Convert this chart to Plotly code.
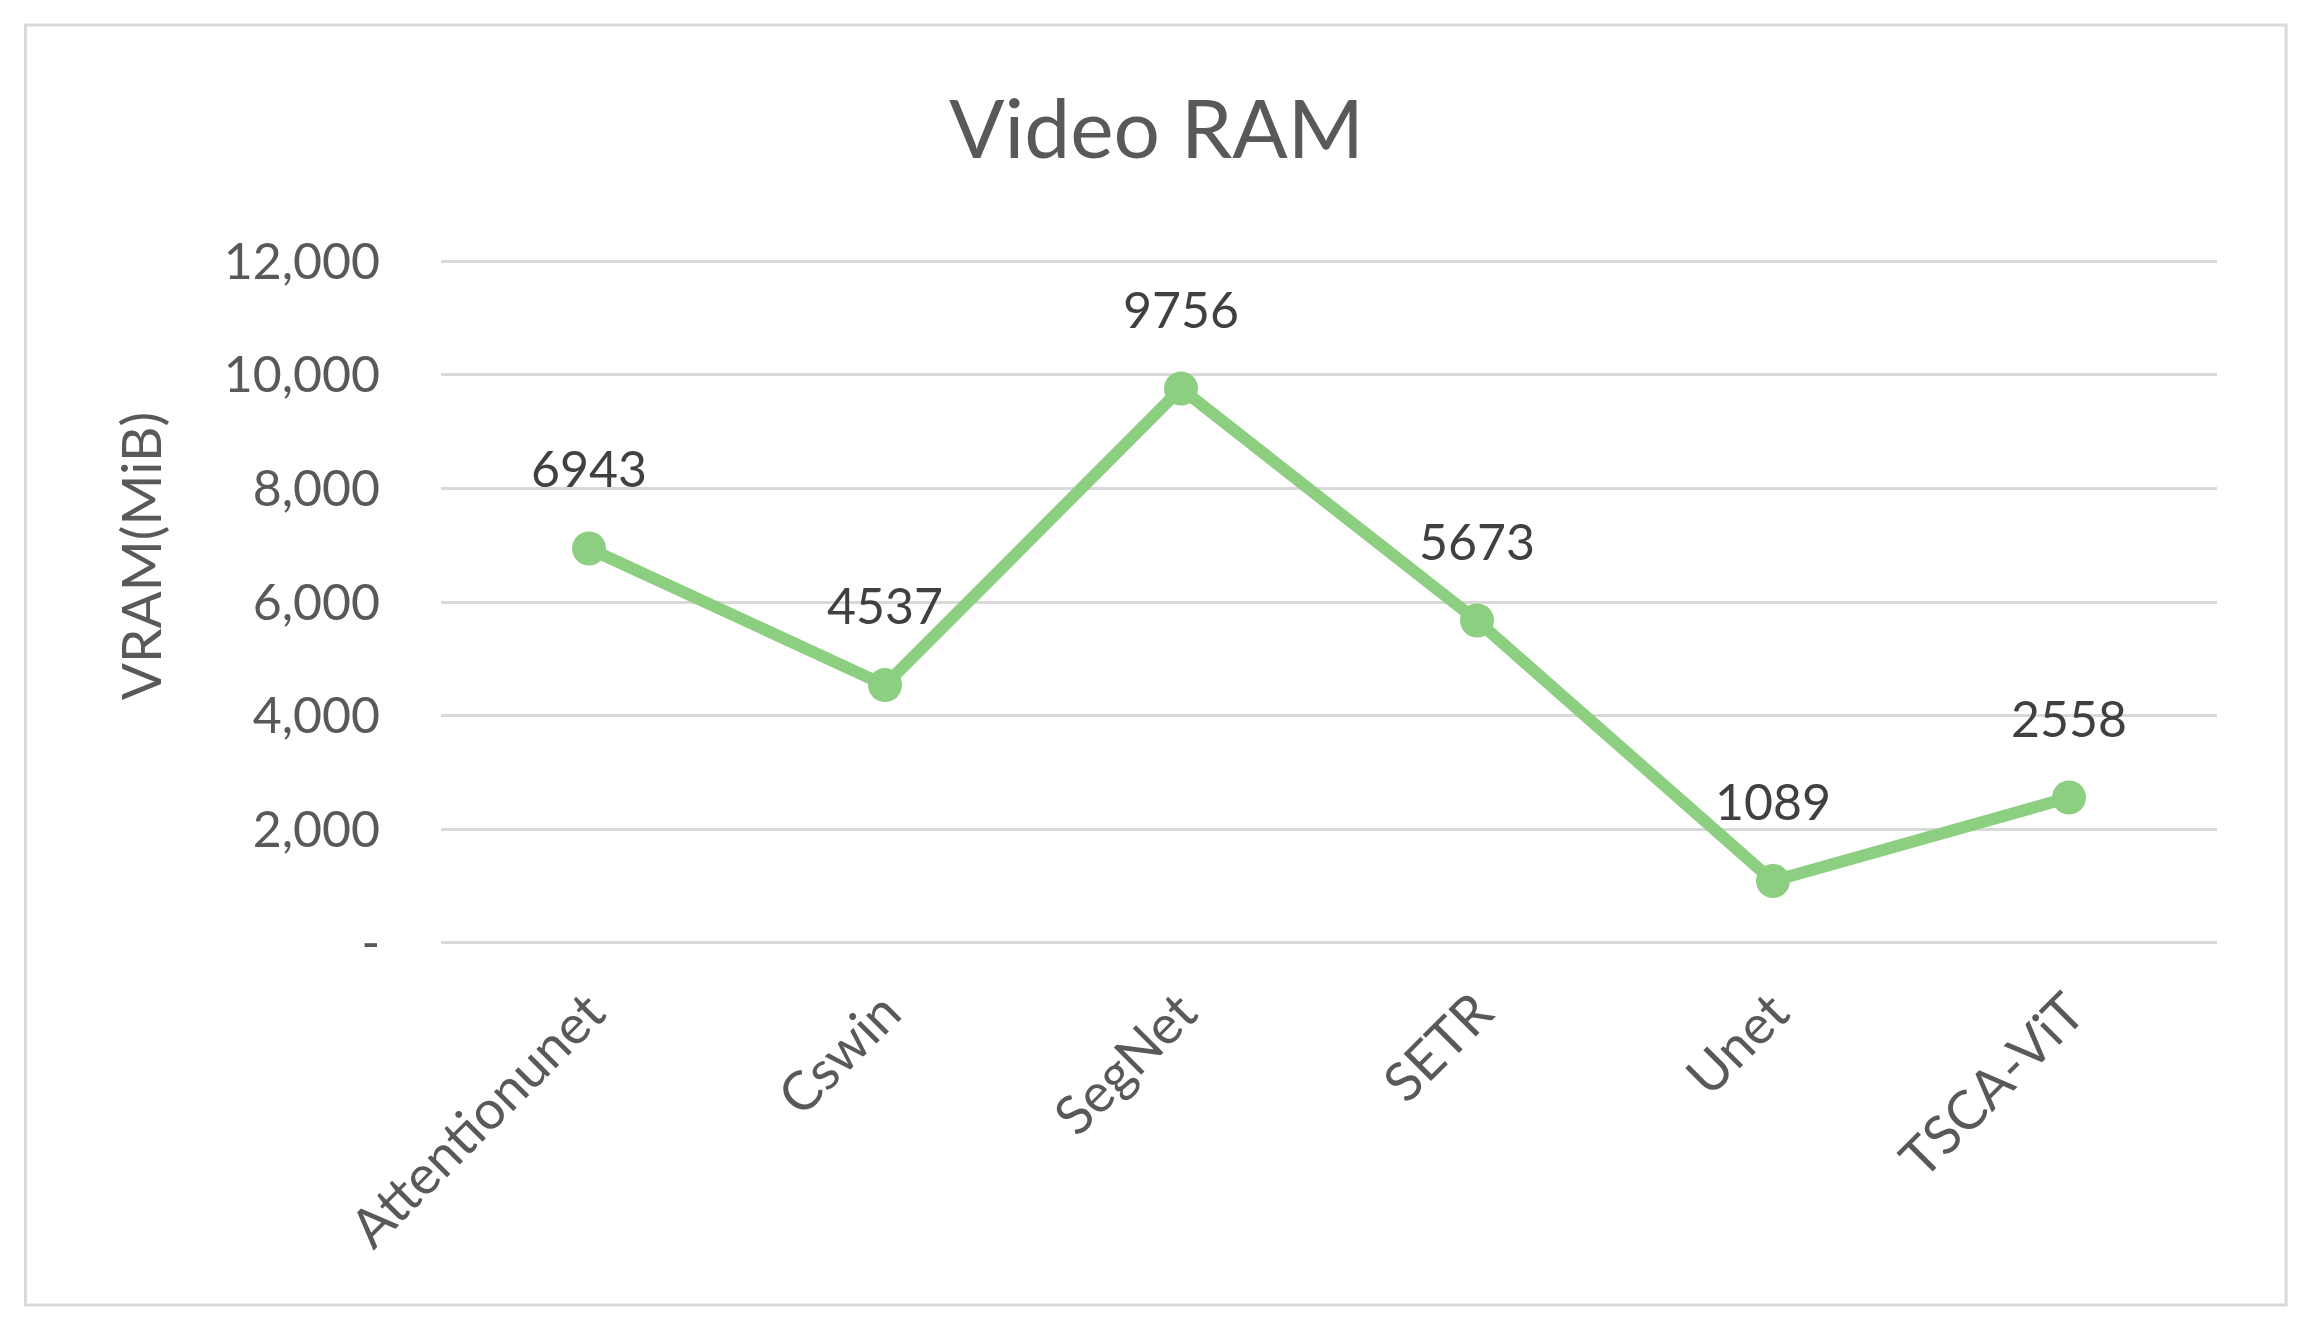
import plotly.graph_objects as go

categories = ["Attentionunet", "Cswin", "SegNet", "SETR", "Unet", "TSCA-ViT"]
vram_mib = [6943, 4537, 9756, 5673, 1089, 2558]
y_tick_values = [0, 2000, 4000, 6000, 8000, 10000, 12000]
y_tick_labels = ["-", "2,000", "4,000", "6,000", "8,000", "10,000", "12,000"]

FONT = "Lato"
LINE_GREEN = "#8DCF80"
TXT = "#595959"

fig = go.Figure()
fig.add_trace(go.Scatter(
    x=categories, y=vram_mib, mode="lines+markers",
    line=dict(color=LINE_GREEN, width=12),
    marker=dict(color=LINE_GREEN, size=34),
    hoverinfo="x+y", showlegend=False,
))

for c, v in zip(categories, vram_mib):
    fig.add_annotation(x=c, y=v, text=str(v), showarrow=False, yshift=80,
                       font=dict(family=FONT, size=50, color="#404040"))

fig.add_annotation(xref="paper", yref="paper", x=-0.1695, y=0.567, text="VRAM(MiB)",
                   textangle=-90, showarrow=False, xanchor="center", yanchor="middle",
                   font=dict(family=FONT, size=55, color=TXT))

fig.add_shape(type="rect", xref="paper", yref="paper", x0=-0.234, x1=1.0389, y0=-0.5278, y1=1.3436,
              line=dict(color="#D9D9D9", width=3), fillcolor="rgba(0,0,0,0)", layer="below")

fig.update_layout(
    width=2297, height=1323,
    margin=dict(l=433, r=88, t=252, b=387),
    paper_bgcolor="white", plot_bgcolor="white",
    title=dict(text="Video RAM", x=0.5, xanchor="center", y=1 - 121 / 1323, yanchor="middle",
               xref="container", yref="container",
               font=dict(family=FONT, size=82, color=TXT)),
    font=dict(family=FONT, color=TXT),
)
fig.update_xaxes(type="category", range=[-0.5, 5.5], showgrid=False, zeroline=False,
                 showline=False, tickangle=-45, ticks="",
                 tickfont=dict(family=FONT, size=54, color=TXT), ticklabelstandoff=25,
                 automargin=False)
fig.update_yaxes(range=[-20, 12020], tickvals=y_tick_values, ticktext=y_tick_labels,
                 showgrid=True, gridcolor="#D9D9D9", gridwidth=3, zeroline=False,
                 showline=False, ticks="", ticklabelstandoff=60,
                 tickfont=dict(family=FONT, size=50, color=TXT), automargin=False)

fig.write_html("out.html")
